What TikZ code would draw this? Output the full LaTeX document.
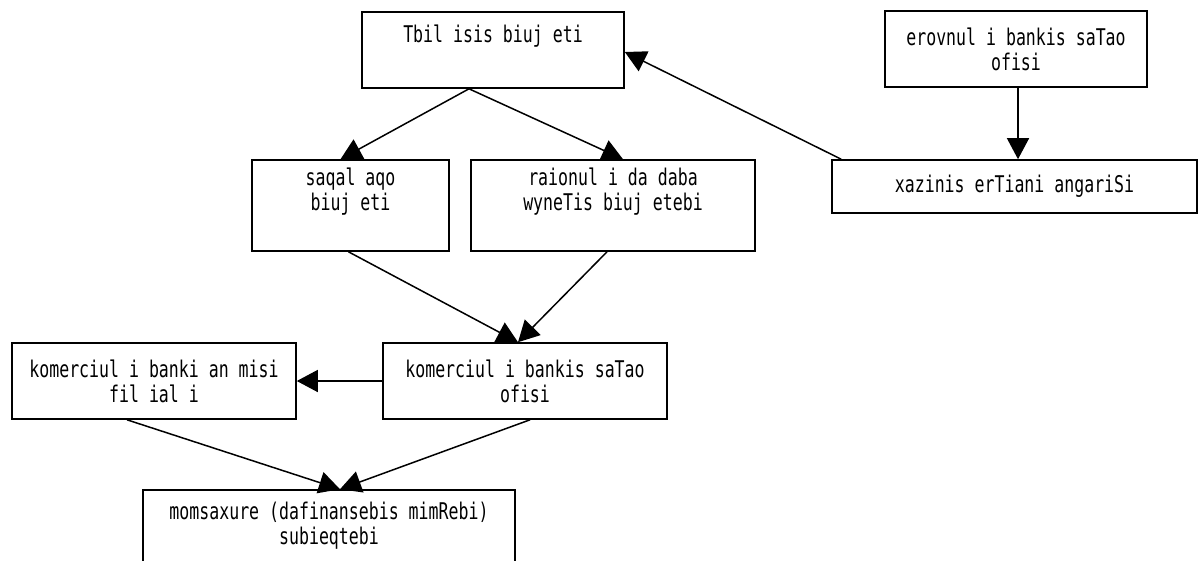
\documentclass[tikz,border=0pt]{standalone}
\usepackage{fontspec}
\setmonofont{DejaVu Sans Mono}[FakeStretch=0.72]
\usetikzlibrary{arrows.meta}
\begin{document}
\begin{tikzpicture}[x=1pt,y=-1pt,
  box/.style={draw,line width=1.6pt,fill=white,inner sep=0pt,align=center,
    font=\ttfamily\fontsize{23}{25}\selectfont},
  arr/.style={line width=1.5pt,-{Triangle[length=21pt,width=22pt]}}]
  \useasboundingbox (0,0) rectangle (1198,560);
  % budget boxes
  \node[box,minimum width=262,minimum height=76] (tbilisi) at (493,50) {Tbil isis biuj eti\\\strut};
  \node[box,minimum width=262,minimum height=76] (erovnuli) at (1016,49) {erovnul i bankis saTao\\ofisi};
  \node[box,minimum width=365,minimum height=53] (xazina) at (1014.5,186.5) {xazinis erTiani angariSi};
  \node[box,minimum width=197,minimum height=91] (saqalaqo) at (350.5,205.5) {saqal aqo\\biuj eti\\\strut};
  \node[box,minimum width=284,minimum height=91] (raioni) at (613,205.5) {raionul i da daba\\wyneTis biuj etebi\\\strut};
  % banks
  \node[box,minimum width=284,minimum height=76] (satao) at (525,381) {komerciul i bankis saTao\\ofisi};
  \node[box,minimum width=284,minimum height=76] (filiali) at (154,381) {komerciul i banki an misi\\fil ial i};
  \node[box,minimum width=372,minimum height=72] (momsaxure) at (329,526) {momsaxure (dafinansebis mimRebi)\\subieqtebi};
  % flows
  \draw[arr] ([xshift=-24pt]tbilisi.south) -- ([xshift=-10pt]saqalaqo.north);
  \draw[arr] ([xshift=-24pt]tbilisi.south) -- ([xshift=10pt]raioni.north);
  \draw[arr] ([xshift=10pt]xazina.north west) -- ([yshift=-2pt]tbilisi.east);
  \draw[arr] ([xshift=2pt]erovnuli.south) -- ([xshift=2pt]erovnuli.south |- xazina.north);
  \draw[arr] ([xshift=-2pt]saqalaqo.south) -- ([xshift=-7pt]satao.north);
  \draw[arr] ([xshift=-6pt]raioni.south) -- ([xshift=-7pt]satao.north);
  \draw[arr] (satao) -- (filiali);
  \draw[arr] ([xshift=-27pt]filiali.south) -- ([xshift=11pt]momsaxure.north);
  \draw[arr] ([xshift=5pt]satao.south) -- ([xshift=11pt]momsaxure.north);
\end{tikzpicture}
\end{document}
